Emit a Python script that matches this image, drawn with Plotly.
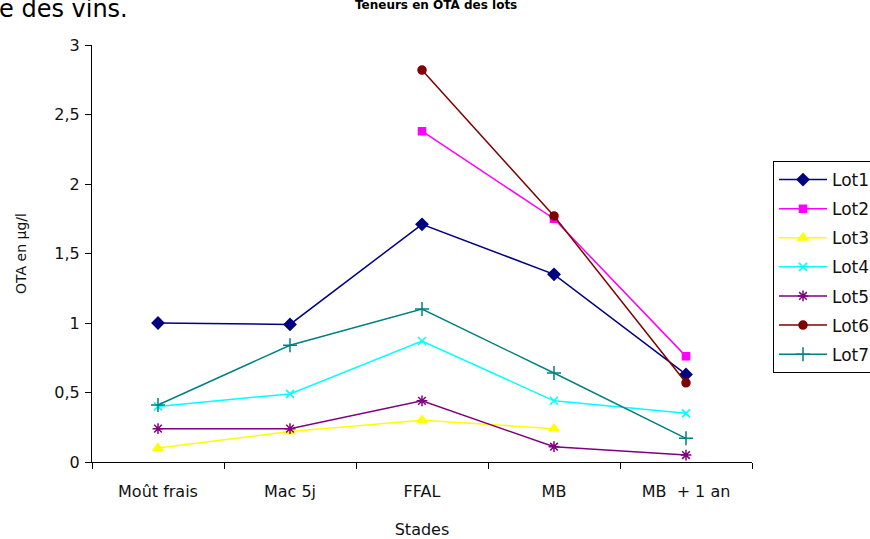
import plotly.graph_objects as go

# Production stages (x categories)
stades = ["Moût frais", "Mac 5j", "FFAL", "MB", "MB  + 1 an"]

# OTA content (µg/l) per lot; None where the lot was not measured
lot1 = [1.00, 0.99, 1.71, 1.35, 0.63]
lot2 = [None, None, 2.38, 1.75, 0.76]
lot3 = [0.10, 0.22, 0.30, 0.24, None]
lot4 = [0.40, 0.49, 0.87, 0.44, 0.35]
lot5 = [0.24, 0.24, 0.44, 0.11, 0.05]
lot6 = [None, None, 2.82, 1.77, 0.57]
lot7 = [0.41, 0.84, 1.10, 0.64, 0.17]

y_ticks = [0, 0.5, 1, 1.5, 2, 2.5, 3]

series = [
    ("Lot1", lot1, "#000080", "diamond", 9),
    ("Lot2", lot2, "#FF00FF", "square", 7),
    ("Lot3", lot3, "#FFFF00", "triangle-up", 9),
    ("Lot4", lot4, "#00FFFF", "x-thin-open", 8),
    ("Lot5", lot5, "#800080", "asterisk-open", 9),
    ("Lot6", lot6, "#800000", "circle", 8),
    ("Lot7", lot7, "#008080", "cross-thin-open", 10),
]

fig = go.Figure()
for name, vals, color, sym, size in series:
    fig.add_trace(go.Scatter(
        x=stades, y=vals, name=name, mode="lines+markers",
        legendgroup=name,
        line=dict(color=color, width=1.5),
        marker=dict(symbol=sym, size=size, color=color,
                    line=dict(color=color, width=1.5)),
        connectgaps=False,
    ))

L, R, T, B = 92, 118, 45, 77
W, H = 870, 539
pw, ph = W - L - R, H - T - B

def px_x(px):
    return (px - L) / pw

def px_y(py):
    return (H - B - py) / ph

FAM = "DejaVu Sans, Verdana, sans-serif"
tick_font = dict(family=FAM, size=16, color="#111111")

fig.update_layout(
    width=W, height=H,
    margin=dict(l=L, r=R, t=T, b=B, pad=0, autoexpand=False),
    paper_bgcolor="white", plot_bgcolor="white",
    separators=", ",
    font=tick_font,
    showlegend=True,
    legend=dict(
        xref="container", yref="container",
        x=773 / W, y=1 - 161 / H, xanchor="left", yanchor="top",
        bordercolor="black", borderwidth=1, bgcolor="white",
        font=dict(family=FAM, size=17, color="#111111"),
        tracegroupgap=4, itemwidth=48,
    ),
    xaxis=dict(
        type="category", range=[-0.5, 4.5],
        showline=True, linecolor="black", linewidth=1.2,
        ticks="outside", tickson="boundaries", ticklen=6, tickcolor="black",
        ticklabelstandoff=15,
        showgrid=False, zeroline=False,
        title=dict(text="Stades", font=dict(family=FAM, size=16, color="#111111"),
                   standoff=23),
        tickfont=tick_font,
    ),
    yaxis=dict(
        range=[0, 3], tickvals=y_ticks,
        showline=True, linecolor="black", linewidth=1.2,
        ticks="outside", ticklen=6, tickcolor="black",
        ticklabelstandoff=2,
        showgrid=False, zeroline=False,
        title=dict(text="OTA en µg/l", font=dict(family=FAM, size=14, color="#111111"),
                   standoff=24),
        tickfont=tick_font,
    ),
    annotations=[
        dict(text="e des vins.", xref="paper", yref="paper",
             x=px_x(-3), y=px_y(9), xanchor="left", yanchor="middle",
             showarrow=False,
             font=dict(family=FAM, size=24, color="black")),
        dict(text="<b>Teneurs en OTA des lots</b>", xref="paper", yref="paper",
             x=px_x(436), y=px_y(5), xanchor="center", yanchor="middle",
             showarrow=False,
             font=dict(family=FAM, size=12, color="black")),
    ],
)

fig.write_html("out.html")
